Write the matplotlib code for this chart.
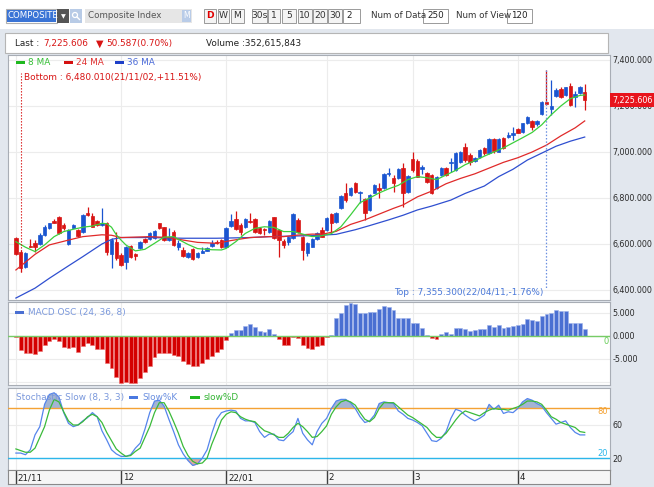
import numpy as np
import matplotlib
matplotlib.use("Agg")
import matplotlib.pyplot as plt
from matplotlib.patches import Rectangle, Ellipse
from matplotlib.lines import Line2D
from matplotlib.ticker import FuncFormatter
import matplotlib.transforms as mtransforms

plt.rcParams['font.family'] = ['DejaVu Sans']

# ---------------- data ----------------
month_idx = [0, 22, 44, 65, 83, 105]
month_labels = ['21/11', '12', '22/01', '2', '3', '4']

open_ = [6625,6567,6499,6592,6606,6600,6639,6668,6701,6719,
         6683,6600,6671,6661,6654,6736,6722,6701,6683,6690,
         6557,6610,6552,6523,6591,6557,6581,6620,6620,6625,
         6690,6672,6617,6654,6585,6574,6545,6577,6542,6562,
         6571,6591,6610,6617,6588,6680,6707,6683,6672,6701,
         6707,6668,6665,6654,6716,6661,6613,6610,6625,6704,
         6632,6560,6589,6620,6661,6661,6730,6697,6755,6820,
         6813,6864,6820,6794,6748,6823,6842,6842,6903,6886,
         6886,6930,6828,6968,6962,6925,6907,6900,6842,6900,
         6929,6951,6922,6958,7023,6987,6962,6980,7016,6994,
         7055,7002,7060,7064,7074,7099,7088,7125,7135,7120,
         7164,7219,7188,7243,7274,7248,7287,7240,7255,7260]
high_ = [6632,6574,6567,6620,6617,6646,6683,6693,6707,6722,
         6690,6665,6688,6665,6730,6762,6733,6705,6755,6697,
         6625,6654,6560,6591,6596,6562,6614,6624,6654,6661,
         6693,6675,6668,6661,6617,6585,6567,6581,6565,6585,
         6585,6617,6617,6620,6675,6729,6744,6690,6712,6733,
         6712,6675,6668,6704,6719,6664,6620,6635,6733,6712,
         6635,6610,6625,6652,6672,6716,6736,6740,6813,6867,
         6848,6871,6830,6799,6817,6860,6867,6907,6929,6900,
         6929,6950,6900,7001,6968,6943,6915,6904,6896,6933,
         6933,6972,7001,7005,7041,6994,6980,7012,7023,7059,
         7059,7059,7067,7088,7110,7106,7128,7157,7139,7139,
         7222,7355.3,7315,7277,7281,7284,7301,7265,7287,7296]
low_ = [6552,6480.01,6494,6585,6567,6596,6635,6664,6690,6642,
        6660,6595,6668,6632,6649,6722,6672,6680,6678,6552,
        6494,6531,6504,6490,6538,6530,6577,6604,6617,6622,
        6664,6614,6614,6591,6574,6545,6538,6530,6538,6560,
        6568,6588,6600,6581,6586,6675,6661,6639,6668,6690,
        6649,6643,6639,6649,6620,6542,6581,6596,6620,6646,
        6530,6548,6585,6617,6629,6658,6654,6693,6751,6784,
        6809,6823,6777,6704,6744,6820,6799,6838,6896,6828,
        6882,6760,6820,6915,6890,6904,6864,6818,6838,6896,
        6896,6915,6919,6954,6958,6943,6958,6976,6987,6990,
        6994,6998,7012,7060,7052,7081,7084,7120,7096,7115,
        7160,7204,7161,7241,7234,7245,7201,7195,7252,7183]
close_ = [6557,6494,6560,6588,6586,6639,6675,6690,6693,6646,
          6668,6661,6683,6636,6726,6726,6675,6683,6693,6567,
          6617,6538,6509,6588,6545,6549,6610,6607,6649,6658,
          6668,6617,6632,6596,6606,6549,6562,6533,6562,6570,
          6581,6606,6603,6586,6668,6700,6664,6654,6707,6694,
          6654,6649,6663,6701,6625,6617,6596,6632,6730,6654,
          6574,6605,6620,6649,6632,6712,6690,6736,6809,6791,
          6842,6828,6827,6736,6813,6857,6835,6903,6910,6867,
          6925,6820,6896,6922,6893,6933,6871,6823,6893,6929,
          6900,6958,6994,7001,6965,6958,6973,7009,6994,7055,
          7005,7055,7016,7074,7081,7084,7125,7154,7110,7135,
          7219,7209,7200,7270,7238,7281,7204,7250,7281,7225.606]

ma8_idx = [0,2,4,6,8,10,12,14,16,18,19,20,21,22,23,25,27,29,31,33,34,36,38,40,41,43,44,46,48,50,
           52,54,56,58,60,62,64,66,68,70,72,74,76,78,80,82,84,86,88,90,92,94,96,98,100,102,104,106,108,110,
           112,114,116,118,119]
ma8 = [6610,6586,6567,6596,6632,6654,6664,6673,6678,6690,6688,6673,6640,6617,6596,6570,6577,6603,6630,6632,
       6620,6598,6580,6577,6575,6574,6581,6610,6646,6668,6675,6672,6654,6654,6643,6632,6636,6645,6675,6726,
       6780,6800,6822,6840,6855,6880,6893,6888,6880,6900,6920,6945,6962,6982,7000,7018,7040,7062,7085,7118,
       7162,7200,7232,7246,7248]
ma24_idx = [0,4,7,11,14,18,20,22,25,28,32,35,38,42,45,49,53,56,59,62,
            64,67,70,73,76,79,81,84,87,90,93,96,99,102,105,108,111,114,117,119]
ma24 = [6487,6555,6596,6617,6632,6640,6638,6628,6630,6632,6628,6617,6607,6603,6615,6628,6632,6632,6639,6643,
        6642,6655,6685,6705,6730,6755,6770,6805,6830,6862,6885,6905,6930,6955,6975,7000,7030,7070,7105,7135]
ma36_idx = [0,4,7,11,14,18,20,22,28,35,42,49,53,59,63,67,71,74,78,81,84,87,91,94,98,101,104,107,110,113,116,119]
ma36 = [6365,6408,6451,6505,6545,6600,6620,6628,6628,6625,6625,6628,6632,6635,6637,6642,6662,6680,6705,6725,
        6748,6765,6791,6820,6852,6893,6925,6965,6995,7025,7047,7065]

macd_osc = [-0.2,
            -3.1,-3.8,-3.8,-4.0,-3.4,-2.1,-1.1,-0.6,-1.1,-2.5,-2.6,-2.5,-3.6,-2.3,-1.6,-2.1,-2.9,-2.9,-5.9,-7.0,
            -9.0,-10.4,-10.1,-10.3,-10.3,-9.2,-8.0,-6.6,-4.7,-3.8,-3.8,-3.8,-4.1,-4.4,-5.5,-6.1,-6.6,-6.6,-5.9,-5.1,
            -4.4,-3.5,-2.9,-1.0,
            0.7,1.3,1.3,2.2,2.6,1.9,1.1,0.9,1.4,0.5,
            -0.7,-1.9,-1.9,-0.2,-0.4,-2.1,-2.7,-2.9,-2.3,-2.1,-0.2,
            0.2,3.9,5.0,6.7,7.1,7.0,5.0,4.9,5.3,5.2,5.9,6.5,6.2,5.6,3.9,3.9,3.9,2.8,2.9,1.7,0.1,
            -0.4,-0.8,
            0.3,0.8,0.5,1.6,1.6,1.4,1.1,1.3,1.4,1.4,2.4,2.0,2.4,1.6,1.9,2.2,2.4,2.6,3.7,3.4,
            3.2,4.4,4.7,5.0,5.6,5.4,5.4,2.8,2.8,2.8,1.4]

slow_k = [26,26,24,30,48,58,85,97,99,94, 75,62,58,60,65,69,75,70,53,42,
          30,25,22,22,24,32,38,55,75,89, 90,83,67,52,36,25,17,11,13,20,
          30,50,67,75,77,78,77,68,65,65, 63,52,45,49,49,42,41,47,52,68,
          50,42,36,52,62,68,80,89,91,91, 87,80,70,63,65,72,86,88,87,86,
          77,73,68,66,63,59,50,41,40,44, 52,68,79,77,72,68,65,68,72,85,
          79,84,74,76,75,80,88,92,90,86, 83,75,68,61,63,65,57,51,48,48]
slow_d = [31,29,27,27,32,45,58,78,91,88, 76,65,60,60,64,70,73,70,63,51,
          41,31,26,22,23,28,32,45,58,75, 87,87,77,64,50,34,23,16,13,14,
          20,37,51,66,73,76,75,70,67,65, 64,58,53,51,48,45,45,50,57,62,
          58,52,45,46,52,59,73,82,88,90, 88,84,75,67,64,69,80,87,87,87,
          82,77,72,69,65,61,57,50,45,45, 50,58,66,73,77,75,73,71,75,78,
          80,79,79,78,80,82,85,89,89,88, 85,78,70,67,63,61,59,57,52,51]

last_price = 7225.606
change = 50.587
change_pct = 0.70
volume = 352615843
bottom_val, bottom_idx = 6480.010, 1
top_val, top_idx = 7355.300, 111

# ---------------- layout ----------------
W, H = 654, 487
fig = plt.figure(figsize=(W / 100, H / 100), dpi=100)
fig.patch.set_facecolor('#e2e7ee')

X0_PX, DX_PX = 15.9, 4.78
L_PX, R_PX = 8, 610
XLIM = ((L_PX - X0_PX) / DX_PX, (R_PX - X0_PX) / DX_PX)

RED = '#d81414'
BLUE = '#1a55d0'
SPINE = '#a8adb5'
GRID = '#ececec'
FS = 6.4


def rect(x0, y0, x1, y1):
    return [x0 / W, 1 - y1 / H, (x1 - x0) / W, (y1 - y0) / H]


def ftext(x, y, s, **kw):
    kw.setdefault('fontsize', FS)
    kw.setdefault('va', 'center')
    return fig.text(x / W, 1 - y / H, s, **kw)


def fbox(x0, y0, x1, y1, fc, ec='none', lw=0.8, z=1):
    r = Rectangle((x0 / W, 1 - y1 / H), (x1 - x0) / W, (y1 - y0) / H,
                  transform=fig.transFigure, facecolor=fc, edgecolor=ec,
                  linewidth=lw, zorder=z)
    fig.add_artist(r)
    return r


def style_panel(ax):
    ax.set_xlim(*XLIM)
    ax.set_facecolor('white')
    for s in ax.spines.values():
        s.set_color(SPINE)
        s.set_linewidth(0.8)
    ax.set_xticks(month_idx)
    ax.tick_params(axis='x', length=0, labelbottom=False)
    ax.yaxis.tick_right()
    ax.tick_params(axis='y', length=0, pad=2, labelsize=5.8, labelcolor='#2a2a2a')
    ax.grid(True, color=GRID, linewidth=0.8)
    ax.set_axisbelow(True)


# ---------- toolbar ----------
fbox(0, 0, W, 29, 'white', z=0)
fbox(6, 9, 57, 23, 'white', ec='#b0b0b0')
fbox(7, 10, 56, 22, '#3a74d6', z=2)
ftext(8, 16, 'COMPOSITE', color='white', fontsize=6.2, zorder=3)
fbox(57, 9, 69, 23, '#555555', z=2)
ftext(63, 16.5, '\u25BC', color='white', fontsize=4.5, ha='center', zorder=3)
fbox(70, 9, 82, 23, '#b8cbe6', z=2)
# magnifier icon drawn as a shape
fig.add_artist(Ellipse((75 / W, 1 - 15 / H), 5 / W, 5 / H, transform=fig.transFigure,
                       facecolor='none', edgecolor='white', linewidth=0.9, zorder=3))
fig.add_artist(Line2D([77 / W, 79.5 / W], [1 - 17 / H, 1 - 19.5 / H], transform=fig.transFigure,
                      color='white', linewidth=1.0, zorder=3))
fbox(85, 9, 192, 23, '#e6e6e6', z=2)
ftext(88, 16, 'Composite Index', color='#555555', fontsize=6.3, zorder=3)
fbox(182, 10, 191, 22, '#b9cce8', z=3)
ftext(186.5, 16, 'M', color='white', fontsize=5.5, ha='center', zorder=4)

btns = [('D', 204, 216, '#e00000'), ('W', 218, 229, '#333333'), ('M', 231, 244, '#333333'),
        ('30s', 252, 267, '#333333'), ('1', 268, 280, '#333333'), ('5', 282, 296, '#333333'),
        ('10', 298, 312, '#333333'), ('20', 313, 327, '#333333'), ('30', 328, 342, '#333333')]
for lab, a, b, c in btns:
    fbox(a, 9, b, 23, '#f4f4f4', ec='#9a9a9a', lw=0.7, z=2)
    ftext((a + b) / 2, 16, lab, color=c, fontsize=6.6, ha='center', zorder=3,
          fontweight='bold' if lab == 'D' else 'normal')
fbox(343, 9, 360, 23, 'white', ec='#9a9a9a', lw=0.7, z=2)
ftext(346, 16, '2', color='#222222', fontsize=6.3, zorder=3)
ftext(371, 16, 'Num of Data', color='#333333', fontsize=6.3)
fbox(423, 9, 448, 23, 'white', ec='#9a9a9a', lw=0.7, z=2)
ftext(427, 16, '250', color='#222222', fontsize=6.3, zorder=3)
ftext(456, 16, 'Num of View', color='#333333', fontsize=6.3)
fbox(507, 9, 532, 23, 'white', ec='#9a9a9a', lw=0.7, z=2)
ftext(511, 16, '120', color='#222222', fontsize=6.3, zorder=3)

# ---------- info box ----------
fbox(5, 33, 608, 53, 'white', ec='#b5b5b5', lw=0.8, z=1)
ftext(15, 43.5, 'Last : ', color='#222222', zorder=3)
ftext(43, 43.5, f'{last_price:,.3f}', color=RED, zorder=3)
ftext(96, 43.5, '\u25BC', color=RED, fontsize=7, zorder=3)
ftext(106, 43.5, f'{change:,.3f}({change_pct:.2f}%)', color=RED, zorder=3)
ftext(206, 43.5, f'Volume :{volume:,}', color='#222222', zorder=3)

# ---------- price panel ----------
ax = fig.add_axes(rect(L_PX, 55, R_PX, 300))
style_panel(ax)
ax.set_ylim(6356.5, 7421.7)
ax.set_yticks(np.arange(6400, 7401, 200))
ax.yaxis.set_major_formatter(FuncFormatter(lambda v, p: f'{v:,.3f}'))

o = np.array(open_, float); hgh = np.array(high_, float)
lw_ = np.array(low_, float); c = np.array(close_, float)
idx = np.arange(len(c))
cols = np.where(c >= o, BLUE, RED)
ax.vlines(idx, lw_, hgh, colors=cols, linewidth=0.9, zorder=3)
ax.bar(idx, np.abs(c - o), bottom=np.minimum(o, c), width=0.72, color=cols,
       edgecolor=cols, linewidth=0.5, zorder=4)

ax.plot(ma36_idx, ma36, color='#2f4fd0', lw=0.9, zorder=5)
ax.plot(ma24_idx, ma24, color='#e02a2a', lw=0.9, zorder=5)
ax.plot(ma8_idx, ma8, color='#3ccf3c', lw=0.9, zorder=6)

# bottom / top markers
ax.plot([bottom_idx, bottom_idx], [bottom_val, 7345], color=RED, lw=0.8,
        linestyle=(0, (1.2, 1.5)), zorder=7)
ax.text(bottom_idx + 0.6, 7325,
        f'Bottom : {bottom_val:,.3f}(21/11/02,+{(last_price / bottom_val - 1) * 100:.2f}%)',
        color=RED, fontsize=FS, va='center', ha='left', zorder=8)
ax.plot([top_idx, top_idx], [top_val, 6410], color='#6a8fe0', lw=0.9,
        linestyle=(0, (1.2, 1.5)), zorder=7)
ax.text(top_idx - 0.7, 6390,
        f'Top : {top_val:,.3f}(22/04/11,{(last_price / top_val - 1) * 100:.2f}%)',
        color='#4a78d8', fontsize=FS, va='center', ha='right', zorder=8)

# MA legend
for (x0, lab, col, tcol) in [(16, '8 MA', '#1fb81f', '#35c035'),
                             (64, '24 MA', '#d41010', '#e03030'),
                             (115, '36 MA', '#1d3fc8', '#4a6ad8')]:
    fbox(x0, 61, x0 + 9, 64, col, z=5)
    ftext(x0 + 12, 62.5, lab, color=tcol, zorder=6)

# last price tag
trans = mtransforms.blended_transform_factory(ax.transAxes, ax.transData)
ax.text(1.004, last_price, f'{last_price:,.3f}', transform=trans, color='white',
        fontsize=5.8, va='center', ha='left', clip_on=False, zorder=10,
        bbox=dict(boxstyle='square,pad=0.3', fc='#e8141c', ec='none'))

# ---------- MACD panel ----------
axm = fig.add_axes(rect(L_PX, 302, R_PX, 385))
style_panel(axm)
axm.set_ylim(-10.75, 7.39)
axm.set_yticks([-10, -5, 0, 5])
axm.yaxis.set_major_formatter(FuncFormatter(lambda v, p: '' if v < -7 else f'{v:.3f}'))
m = np.array(macd_osc)
mi = np.arange(len(m))
mcol = np.where(m >= 0, '#4a6fd2', '#d40000')
medge = np.where(m >= 0, '#9db2ea', '#ee7070')
axm.bar(mi, m, width=0.82, color=mcol, edgecolor=medge, linewidth=0.4, zorder=3)
axm.axhline(0, color='#77cc66', lw=1.0, zorder=4)
fbox(15, 310.5, 24, 313.5, '#4a6fd2', z=5)
ftext(28, 312, 'MACD OSC (24, 36, 8)', color='#7a98dc', zorder=6)
ftext(603, 341, '0', color='#66cc55', fontsize=6, zorder=6)

# ---------- Stochastic panel ----------
axs = fig.add_axes(rect(L_PX, 388, R_PX, 470))
style_panel(axs)
axs.set_ylim(5.5, 104.8)
axs.set_yticks([20, 60])
axs.yaxis.set_major_formatter(FuncFormatter(lambda v, p: f'{v:.0f}'))
k = np.array(slow_k, float); d = np.array(slow_d, float)
ki = np.arange(len(k)); di = np.arange(len(d))
axs.fill_between(ki, k, 80, where=k > 80, interpolate=True, color='#a3b4d3', lw=0, zorder=2)
axs.fill_between(ki, k, 20, where=k < 20, interpolate=True, color='#dca8a2', lw=0, zorder=2)
axs.axhline(80, color='#f4a234', lw=1.0, zorder=3)
axs.axhline(20, color='#2cb6ea', lw=1.0, zorder=3)
axs.plot(ki, k, color='#5585ec', lw=0.9, zorder=4)
axs.plot(di, d, color='#3aba3a', lw=0.9, zorder=5)
ftext(16, 397.5, 'Stochastic Slow (8, 3, 3)', color='#7a98dc', zorder=6)
fbox(129, 396, 138, 399, '#4a78e0', z=5)
ftext(142, 397.5, 'Slow%K', color='#6a8fe0', zorder=6)
fbox(190, 396, 200, 399, '#22b822', z=5)
ftext(204, 397.5, 'slow%D', color='#35b535', zorder=6)
ftext(597, 412, '80', color='#f4a234', fontsize=6, zorder=6)
ftext(597, 453, '20', color='#2cb6ea', fontsize=6, zorder=6)

# ---------- date strip ----------
axd = fig.add_axes(rect(L_PX, 470, R_PX, 484))
axd.set_xlim(*XLIM)
axd.set_ylim(0, 1)
axd.set_facecolor('#f6f6f6')
for s in axd.spines.values():
    s.set_color('#8a8a8a')
    s.set_linewidth(0.8)
axd.set_xticks([]); axd.set_yticks([])
axd.vlines(month_idx, 0, 1, colors='#404040', lw=1.0)
for mi_, lab in zip(month_idx, month_labels):
    axd.text(mi_ + 0.35, 0.45, lab, fontsize=6.3, color='#222222', va='center', ha='left')

fig.savefig('out.png', dpi=100, facecolor=fig.get_facecolor())
